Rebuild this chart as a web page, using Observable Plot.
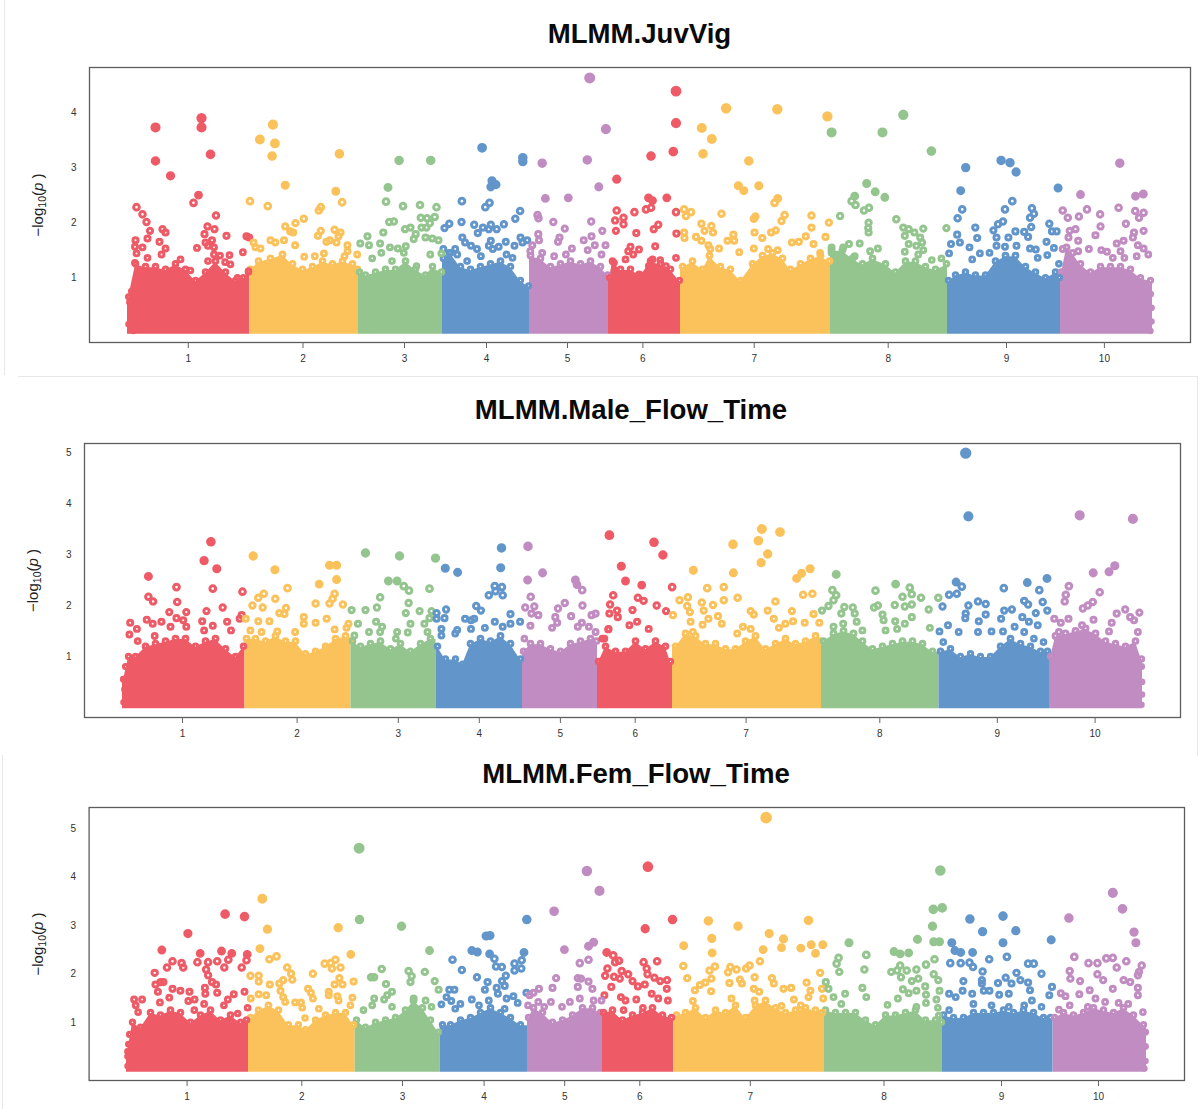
<!DOCTYPE html>
<html><head><meta charset="utf-8">
<script src="https://cdn.jsdelivr.net/npm/d3@7"></script>
<script src="https://cdn.jsdelivr.net/npm/@observablehq/plot@0.6"></script>
<style>
html,body{margin:0;background:#fff}
#root{position:relative;width:1204px;height:1109px;overflow:hidden;font-family:"Liberation Sans",Arial,sans-serif}
.ttl{position:absolute;left:0;width:1204px;text-align:center;font-weight:700;font-size:27.6px;line-height:32px;color:#0a0a0a}
.ln{position:absolute;background:#e8e8e8}
</style></head><body><div id="root"></div>
<script>
const chromosomes = ["1","2","3","4","5","6","7","8","9","10"];
const chromColors = ["#EE5A66","#FBC25B","#94C58F","#6296CB","#C18CC1"];

// panel 1: MLMM.JuvVig  [genome position, -log10(p)]
const juvTitle = "MLMM.JuvVig";
const juvTicks = [187.8,302.5,404,486,567,642.4,753.7,887.7,1006,1103.9];
const juvBounds = [127,249.3,358,442,529,608,680,830,947,1060,1152];
const juvEnvelope = [[128,.65],[135,1.25],[145,1.2],[155,1.2],[165,1.15],[175,1.25],[185,1.15],[195,.95],[205,1.1],[215,1.3],[225,1.1],[235,.95],[243,1],[248,1.1],
[250,1.15],[258,1.3],[270,1.35],[282,1.42],[292,1.25],[302,1.15],[312,1.2],[322,1.3],[332,1.25],[342,1.3],[352,1.25],[357,1.15],
[359,1.1],[365,1.05],[375,1.1],[385,1.15],[395,1.15],[405,1.3],[415,1.15],[425,1.05],[432,1.2],[441,1.1],
[443,1.35],[450,1.45],[460,1.2],[470,1.15],[480,1.2],[490,1.25],[500,1.3],[510,1.2],[520,.95],[528,.85],
[530,1.4],[540,1.35],[550,1.2],[560,1.25],[570,1.3],[580,1.25],[590,1.3],[600,1.2],[607,1.05],
[609,1],[612,1.3],[620,1.15],[630,1.15],[640,1.05],[650,1.3],[660,1.25],[670,1.15],[679,.95],
[682,1.2],[692,1.3],[702,1.15],[709,1.4],[720,1.2],[730,1.15],[740,.95],[752,1.25],[762,1.4],[772,1.45],[782,1.35],[790,1.15],[800,1.25],[810,1.35],[820,1.4],[829,1.3],
[831,1.5],[842,1.5],[852,1.35],[862,1.25],[872,1.35],[885,1.25],[895,1.1],[905,1.3],[915,1.3],[925,1.2],[935,1.15],[946,1.25],
[948,.95],[955,1.05],[965,1.1],[975,1.05],[985,1.05],[995,1.3],[1005,1.4],[1015,1.4],[1025,1.2],[1035,1.1],[1045,1],[1055,1.1],[1059,1],
[1061,1.1],[1066,1.55],[1072,1.45],[1080,1.25],[1090,1.1],[1100,1.2],[1110,1.2],[1120,1.2],[1130,1.15],[1140,1],[1150,.95]];
const juvPoints = [[129,.55],[130,.35],[128,.15],[131,.75],[133,.03],[1150,.7],[1151,.45],[1151,.2],[1150,.03],
[155,3.73],[155,3.12],[170,2.85],[201,3.9],[201,3.73],[210,3.24],[198,2.5],[193,2.36],[136,2.28],[215.5,2.13],[142,2.15],[146,2.01],[149.5,1.85],[162,1.88],[165,1.82],[147,1.71],[159,1.65],[135,1.68],[134.5,1.56],[142,1.55],[136,1.44],[165,1.53],[161,1.42],[207,1.93],[214,1.88],[204,1.79],[226,1.76],[246,1.75],[248.7,1.73],[211.5,1.68],[205,1.64],[196.5,1.54],[207.5,1.58],[213.5,1.55],[213.5,1.42],[219.5,1.4],[229,1.41],[242.4,1.46],[147,1.36],[180,1.33],[207.5,1.3],[224.6,1.28],[230,1.24],[134.4,1.27],[190,1.13],[248,1.12],[237,1],
[272.4,3.78],[259.4,3.51],[274.4,3.44],[271.6,3.21],[338.9,3.25],[284.7,2.68],[335.3,2.57],[341.6,2.37],[249.5,2.39],[267.3,2.3],[320.3,2.28],[318.3,2.22],[303.3,2.07],[295,1.99],[284.7,1.93],[289.8,1.84],[292.6,1.82],[320.3,1.85],[317.5,1.76],[334,1.87],[340,1.82],[338,1.75],[283.5,1.68],[270,1.68],[253,1.64],[255,1.55],[260,1.53],[274.8,1.64],[294.6,1.59],[326,1.65],[329.4,1.68],[336,1.64],[347,1.59],[347,1.48],[356.7,1.42],[303.7,1.38],[314.3,1.39],[323.4,1.44],[344,1.39],
[398.6,3.13],[430.2,3.13],[387.5,2.64],[385.5,2.38],[402.5,2.3],[419.5,2.32],[436,2.28],[420.3,2.09],[426.6,2.08],[434.2,2.1],[388.7,2.01],[393.4,2.02],[429.4,1.99],[421,1.91],[425.9,1.91],[404.5,1.88],[410,1.91],[382.8,1.82],[415.2,1.79],[367,1.75],[413.2,1.7],[425,1.73],[431.8,1.71],[438,1.68],[359.8,1.62],[368.5,1.59],[379.6,1.62],[389.5,1.55],[397.4,1.53],[405.3,1.57],[380.8,1.45],[403.3,1.45],[440.9,1.44],[429.8,1.42],[371.7,1.35],[391.5,1.3],[416,1.21],
[481.6,3.36],[522.3,3.18],[522.3,3.11],[491.5,2.76],[495.5,2.69],[490.3,2.65],[461.4,2.39],[489,2.36],[484.8,2.28],[519.6,2.21],[514.8,2.07],[448.8,1.98],[444,1.9],[461,2.01],[473.7,1.96],[482.4,1.91],[477.3,1.81],[490.3,1.96],[496.2,1.88],[503.4,1.97],[488.3,1.88],[461.8,1.73],[464.6,1.64],[470.5,1.58],[476.5,1.52],[490.3,1.67],[488.3,1.58],[492.3,1.52],[505.3,1.65],[498.2,1.56],[514,1.58],[520,1.73],[522,1.64],[526.7,1.68],[442.9,1.52],[454.7,1.52],[448.8,1.45],[456.7,1.42],[480.4,1.39],[506,1.42],[512,1.36],[466.6,1.3],
[541.7,3.08],[586.8,3.14],[589.2,4.63],[605.4,3.7],[598.3,2.65],[544.9,2.44],[567.8,2.45],[537,2.14],[538,2.08],[590.7,2.02],[552.8,2.01],[564.3,1.89],[601.8,1.85],[537.8,1.79],[559,1.73],[557.5,1.65],[591,1.75],[583.2,1.68],[594.3,1.59],[605,1.59],[538.5,1.68],[531.8,1.59],[571.4,1.53],[587.2,1.5],[541.7,1.45],[529.8,1.48],[553.6,1.39],[565.4,1.42],[601,1.42],
[675.5,4.39],[675.5,3.81],[672.8,3.29],[650.5,3.21],[616.2,2.79],[648,2.45],[652,2.4],[666.3,2.45],[645.5,2.24],[650.5,2.27],[633.9,2.19],[616.2,2.22],[675.5,2.19],[623,2.09],[614.6,2.04],[623,1.97],[615.4,1.85],[657.8,1.96],[653.2,1.88],[635.8,1.81],[675.9,1.8],[654.7,1.57],[630,1.56],[627.7,1.48],[638.5,1.51],[632.7,1.42],[675.5,1.36],[613.5,1.27],[625,1.33],[652,1.33],[648.2,1.21],[659.7,1.32],[665.5,1.21],[638.5,1.06],
[725.6,4.08],[776.8,4.06],[826.9,3.93],[701.3,3.72],[711.3,3.52],[702.5,3.25],[748.3,3.12],[737.9,2.67],[743.3,2.58],[758.3,2.67],[777.2,2.44],[774.1,2.36],[683.6,2.24],[690.5,2.19],[685.5,2.12],[721,2.16],[754.9,2.11],[753.3,2.07],[784.1,2.14],[781,2.03],[811,2.13],[811,1.91],[828.4,2],[700.9,1.98],[710.9,1.94],[704,1.85],[712.5,1.82],[683.6,1.82],[684,1.72],[695.5,1.74],[700.9,1.67],[732.9,1.78],[727,1.67],[733.7,1.67],[754,1.82],[761.8,1.72],[770.6,1.82],[775.3,1.86],[791.4,1.64],[798.4,1.65],[805.3,1.75],[825,1.74],[813,1.61],[707.9,1.59],[709.8,1.52],[718.6,1.53],[738.7,1.46],[753.3,1.53],[767.6,1.52],[777.2,1.5],[819.6,1.45],
[902.8,3.96],[831.1,3.64],[882,3.64],[930.9,3.3],[866.2,2.71],[874.7,2.56],[884.3,2.46],[854.2,2.48],[851.2,2.39],[855,2.32],[868.5,2.27],[863.5,2.22],[839.6,2.12],[895.8,2.06],[868.1,2],[867.7,1.9],[868.1,1.82],[902.8,1.91],[908.2,1.88],[913.9,1.82],[922.8,1.89],[945.9,1.9],[904.3,1.76],[919.7,1.73],[921.6,1.64],[908.2,1.61],[915.9,1.58],[922.8,1.5],[904.3,1.47],[917.8,1.42],[848.5,1.61],[859.2,1.62],[831.1,1.55],[842.7,1.55],[877.4,1.53],[869.6,1.48],[831.1,1.45],[854.2,1.39],[931.3,1.32],[940.9,1.35],
[965.2,3],[1000.6,3.13],[1009.5,3.09],[1015.6,2.92],[1057.6,2.63],[960.2,2.58],[1011.8,2.39],[961.7,2.24],[1031.4,2.26],[1004.5,2.24],[1033.4,2.16],[1029.5,2.09],[957.1,2.08],[1002.5,2.02],[997.5,1.97],[1048.8,1.98],[974.8,1.91],[1030.7,1.92],[992.9,1.86],[1014.9,1.84],[1023.7,1.83],[1051.5,1.84],[1056.1,1.84],[956.7,1.78],[976.7,1.72],[996,1.73],[1007.9,1.73],[1027.6,1.74],[959.4,1.64],[950.5,1.61],[1046,1.65],[996,1.58],[1004.5,1.56],[1016,1.58],[969,1.55],[1029.5,1.53],[1035.3,1.51],[1053.4,1.54],[948.6,1.44],[979.4,1.44],[989,1.45],[1046.8,1.41],[971.7,1.33],[1037.2,1.36],[1058.4,1.25],
[1119.3,3.08],[1080,2.51],[1135,2.48],[1142.8,2.52],[1086.5,2.24],[1118.1,2.27],[1062.2,2.22],[1134.7,2.21],[1143.1,2.18],[1138.5,2.09],[1078.4,2.11],[1067.3,2.09],[1099.6,2.15],[1100,1.93],[1125.4,1.98],[1143.1,1.85],[1133.5,1.82],[1132.4,1.73],[1075,1.88],[1069.2,1.85],[1095,1.77],[1123.1,1.67],[1116.2,1.62],[1077.7,1.67],[1068,1.73],[1088.4,1.52],[1100.8,1.5],[1106.5,1.47],[1120,1.48],[1137.4,1.59],[1143.1,1.53],[1147.8,1.42],[1062.2,1.52],[1077.7,1.48],[1136.2,1.39],[1112.3,1.36],[1123.9,1.36]];

// panel 2: MLMM.Male_Flow_Time
const maleTitle = "MLMM.Male_Flow_Time";
const maleTicks = [182,296.6,397.8,478.8,559.9,634.7,745.6,879.3,996.8,1094.6];
const maleBounds = [122,244.5,350.5,435.5,522,597,672,821,938.5,1049,1142];
const maleEnvelope = [[123,.55],[128,1],[135,1],[145,1.2],[155,1.25],[165,1.3],[175,1.35],[185,1.35],[195,1.2],[205,1.3],[215,1.35],[225,1.15],[235,1],[243,1.2],
[246,1.35],[255,1.35],[265,1.3],[275,1.4],[285,1.3],[295,1.3],[305,1.05],[315,1.1],[325,1.2],[335,1.35],[345,1.4],[349,1.3],
[352,1.3],[360,1.2],[370,1.25],[380,1.3],[390,1.15],[400,1.25],[410,1.1],[420,1.25],[430,1.35],
[437,1.2],[445,.95],[455,.95],[462,.85],[470,1.25],[480,1.35],[490,1.3],[500,1.4],[510,1.25],[520,.95],
[523,1.1],[530,1.25],[540,1.25],[550,1.15],[560,1.1],[570,1.25],[580,1.3],[590,1.35],[596,1.3],
[598,.9],[605,1.2],[615,1.1],[625,1.1],[635,1.3],[645,1.15],[655,1.3],[665,1.2],[670,.9],
[675,1.2],[685,1.45],[695,1.4],[705,1.25],[715,1.25],[725,1.15],[735,1.15],[745,1.3],[755,1.4],[765,1.15],[775,1.25],[785,1.35],[795,1.25],[805,1.3],[815,1.4],[820,1.3],
[823,1.3],[833,1.45],[843,1.5],[853,1.45],[862,1.3],[872,1.15],[882,1.2],[892,1.25],[902,1.3],[912,1.3],[922,1.25],[932,1.1],
[940,1.1],[950,1.15],[960,1],[970,1.05],[980,1],[990,1],[1000,1.2],[1010,1.35],[1020,1.25],[1030,1.2],[1040,1.1],[1047,1.1],
[1050,1],[1055,1.4],[1065,1.45],[1075,1.5],[1085,1.55],[1095,1.45],[1105,1.3],[1115,1.25],[1125,1.2],[1135,1.3],[1141,.95]];
const malePoints = [[123,.1],[124,.35],[123,.55],[125,.8],[1141,.8],[1141.5,.5],[1141.5,.25],[1141,.05],
[210.4,3.25],[203.6,2.88],[216.3,2.72],[212.3,2.33],[147.9,2.57],[176,2.36],[242,2.27],[147.9,2.17],[152.6,2.08],[176.7,2.07],[222.2,1.96],[206,1.89],[168.8,1.87],[185.8,1.87],[146.3,1.72],[129.7,1.66],[136.4,1.54],[152.2,1.64],[160.9,1.68],[176,1.75],[182.7,1.71],[201.7,1.69],[212.3,1.6],[226.6,1.68],[239.2,1.74],[241.2,1.81],[230.5,1.51],[128.9,1.43],[137.2,1.3],[154.2,1.4],[170,1.58],[185.8,1.58],[203.6,1.51],
[252.7,2.97],[274.4,2.7],[287,2.34],[318.7,2.42],[329,2.79],[336.1,2.79],[336.1,2.51],[263.3,2.23],[257.8,2.15],[251.9,2],[262.2,1.96],[274.8,2.13],[334.1,2.23],[332.1,2.13],[329,2.04],[342.4,2.02],[315.1,2.04],[285.5,1.95],[278.8,1.85],[283.9,1.83],[245.2,1.74],[257.8,1.69],[268.9,1.69],[303.3,1.77],[303.3,1.64],[315.1,1.66],[326.2,1.74],[348,1.64],[346,1.56],[334.1,1.53],[249.9,1.51],[261,1.48],[276.8,1.49],[294.6,1.48],
[365,3.03],[399,2.97],[435,2.93],[387.9,2.48],[396.6,2.48],[403.3,2.38],[408.5,2.29],[429,2.33],[379.6,2.16],[408.1,2.05],[351.1,1.91],[365,1.91],[376.4,1.96],[405.3,1.85],[419.1,1.89],[431,1.89],[357.5,1.64],[375.6,1.68],[410,1.64],[423.9,1.64],[429,1.75],[381.6,1.58],[379.6,1.48],[368.5,1.48],[396.6,1.48],[407.3,1.47],[427,1.48],[353.9,1.41],[395.4,1.35],
[444.8,2.73],[457.1,2.65],[501,3.13],[500.2,2.74],[494.3,2.38],[501.4,2.36],[488.3,2.2],[495,2.28],[502.2,2.2],[475.7,1.99],[480.4,1.9],[445.6,1.92],[436.1,1.85],[510,1.83],[436.1,1.74],[444,1.75],[464.6,1.74],[470.5,1.71],[473.7,1.74],[494.3,1.68],[510,1.64],[519.6,1.68],[484.4,1.56],[502.2,1.58],[440.9,1.54],[456.7,1.52],[470.5,1.54],[440.9,1.41],[454.7,1.45],
[527.5,3.16],[542.1,2.64],[527.1,2.5],[574.9,2.5],[576.5,2.41],[581.7,2.3],[530.2,2.17],[524.7,1.96],[533.8,1.98],[582,2],[564.3,2.05],[557.5,1.94],[531,1.84],[537.8,1.81],[570.6,1.79],[554.8,1.77],[591.1,1.81],[595.1,1.84],[556.7,1.66],[551.6,1.56],[529.9,1.6],[581.3,1.66],[577.3,1.58],[588.4,1.58],[595.1,1.48],[523.9,1.35],
[608.9,3.38],[653.5,3.24],[662.4,2.99],[620.8,2.77],[625,2.48],[641.2,2.4],[671.6,2.36],[612.7,2.2],[637.4,2.15],[643.1,2.09],[609.6,2.02],[656.2,2],[608.9,1.84],[616.6,1.9],[617.3,1.77],[632,1.91],[665.5,1.89],[628.9,1.61],[636.6,1.68],[648.2,1.54],[607.7,1.53],[603.9,1.35],[608.1,1.54],[601.8,1.35],
[761.4,3.5],[779.5,3.44],[757.9,3.27],[732.5,3.2],[767.2,3.01],[760.6,2.84],[692.8,2.69],[809.6,2.72],[801.1,2.63],[796.1,2.53],[732.9,2.64],[723.3,2.36],[706.7,2.34],[687.4,2.16],[679,2.1],[737.1,2.15],[802.6,2.21],[811.9,2.23],[723.3,2.1],[701.3,2.06],[712.5,2.01],[774.9,2.08],[686.7,1.99],[689.4,1.87],[672.4,1.81],[703.2,1.9],[767.2,1.9],[750.2,1.89],[753.3,1.82],[791.4,1.89],[813,1.83],[717.5,1.79],[707.9,1.74],[690.1,1.68],[773.3,1.74],[721.3,1.64],[702.1,1.62],[792.6,1.69],[784.9,1.64],[804.2,1.66],[818.8,1.66],[778.4,1.56],[742.5,1.58],[750.2,1.54],[736.7,1.45],[692.4,1.48],
[835.7,2.61],[895.1,2.42],[875,2.29],[909.3,2.35],[911.3,2.22],[902,2.17],[920.5,2.15],[831.9,2.3],[835.7,2.2],[833,2.1],[828,1.99],[821.5,1.9],[877.4,2],[873.5,1.96],[894.3,2.01],[904.3,1.98],[911.3,2.02],[928.2,1.92],[843.8,1.97],[852.3,1.96],[840.8,1.84],[854.2,1.84],[882,1.82],[911.3,1.77],[894.7,1.69],[904.3,1.64],[883.1,1.71],[833,1.58],[842.7,1.64],[856.2,1.68],[929.4,1.56],[861.9,1.51],[885.1,1.51],[896.6,1.54],[937.8,2.15],
[965.2,4.99],[967.9,3.75],[955.6,2.46],[961.3,2.37],[948.6,2.21],[956.3,2.23],[942,1.98],[1003.3,2.34],[1026.8,2.45],[1038.8,2.3],[1046.5,2.53],[967.9,2],[977.5,2.08],[985.2,2.03],[965.2,1.84],[964.8,1.75],[985.2,1.82],[978.3,1.69],[1003.7,1.9],[1011.4,1.92],[1023.7,2.09],[1027.6,2.02],[1042.2,2.07],[1035.3,1.85],[1046.8,1.9],[1000.6,1.74],[1014.1,1.58],[1021.8,1.77],[1028.4,1.68],[1037.2,1.61],[947.5,1.61],[939,1.49],[958.2,1.48],[977.5,1.48],[991,1.49],[1002.5,1.49],[1023.7,1.48],[1033.4,1.35],[942.8,1.28],[1043,1.28],
[1079.2,3.77],[1132.4,3.7],[1114.3,2.78],[1108.5,2.66],[1092.7,2.64],[1068.4,2.38],[1065.3,2.21],[1064.2,2.08],[1099.2,2.26],[1092.3,2.07],[1087.3,2],[1082.3,1.94],[1138.9,1.86],[1124.7,1.92],[1116.2,1.84],[1129.7,1.77],[1133.5,1.71],[1053.8,1.74],[1060.3,1.66],[1068,1.74],[1081.5,1.61],[1093,1.72],[1111.2,1.66],[1137.4,1.48],[1108.5,1.49],[1058.4,1.48]];

// panel 3: MLMM.Fem_Flow_Time
const femTitle = "MLMM.Fem_Flow_Time";
const femTicks = [186.6,301.3,402,483.6,564.2,639.3,749.8,883.5,1001,1098];
const femBounds = [126,248,354.7,439.7,527,602,673.2,823.4,942,1052.6,1146];
const femEnvelope = [[127,.4],[132,1],[140,.9],[150,1.2],[160,1.15],[170,1.25],[180,1.2],[190,1],[200,1.15],[210,1.25],[220,1.05],[230,1.15],[240,1],[246,1.05],
[250,1.1],[258,1.25],[268,1.35],[278,1.25],[288,.95],[298,.95],[305,.85],[315,1.05],[325,1.15],[335,1.2],[345,1.2],[353,.95],
[356,1.05],[365,.9],[375,1],[385,1.05],[395,1.1],[405,1.25],[413,1.45],[422,1.3],[430,1.05],[438,.8],
[442,.95],[450,.95],[460,1.05],[470,1.1],[480,1.2],[490,1.3],[500,1.2],[510,1.1],[520,.95],
[528,1.1],[533,1.3],[542,1.2],[552,1],[562,1.05],[572,1.15],[582,1.3],[592,1.3],[600,1.2],
[603,1.2],[612,1.25],[622,1.05],[632,1.15],[642,1.2],[652,1.3],[662,1.15],[671,1.1],
[676,1.15],[685,1.2],[695,1.3],[705,1.1],[715,1.25],[725,1.2],[735,1.35],[745,1.1],[755,1.35],[765,1.45],[775,1.3],[785,1.2],[795,1.25],[805,1.3],[815,1.25],[822,1.2],
[825,1.25],[835,1.2],[845,1.2],[855,1.2],[865,1.05],[875,.95],[885,1.15],[895,1.15],[905,1.2],[915,1.25],[925,1.05],[935,1.05],[941,1],
[943,1.15],[953,1.1],[963,1.1],[973,1.2],[983,1.2],[993,1.2],[1003,1.25],[1013,1.2],[1023,1.25],[1033,1.2],[1043,1.1],[1050,1.1],
[1054,1.1],[1063,1.2],[1073,1.15],[1083,1.2],[1093,1.3],[1103,1.25],[1113,1.2],[1123,1.3],[1133,1.15],[1143,.95]];
const femPoints = [[127,.1],[127,.3],[128,.55],[129,.75],[1145,.8],[1145,.5],[1145,.2],[1144,.05],
[187.4,2.83],[224.6,3.23],[244,3.18],[161.3,2.49],[199.7,2.42],[221,2.47],[231.3,2.42],[246.7,2.4],[246,2.28],[172,2.26],[181.1,2.22],[182.7,2.13],[196.9,2.24],[207.6,2.24],[216.7,2.26],[227.8,2.29],[223.8,2.13],[241.2,2.13],[166.5,2.13],[154.2,2.02],[205.6,2.09],[207.6,1.97],[211.5,1.83],[215.5,1.78],[155,1.78],[160.1,1.83],[162.9,1.83],[157.4,1.63],[172,1.69],[179.9,1.65],[189,1.63],[204.4,1.71],[204.8,1.59],[216.7,1.61],[233.3,1.58],[244,1.63],[133.6,1.47],[141.6,1.47],[135.2,1.35],[159.4,1.41],[168.8,1.51],[194.1,1.47],[187.8,1.44],[227.4,1.47],[223.4,1.35],[203.6,1.38],[137.6,1.21],[247.1,1.3],[237.2,1.18],[193.8,1.25],
[261.8,3.55],[266.9,2.92],[337.7,2.95],[259.4,2.52],[350.3,2.4],[268.9,2.3],[276,2.36],[334.9,2.29],[324.2,2.21],[330.2,2.22],[340,2.13],[331.4,2.11],[286.7,2.13],[290.6,2],[312.4,2],[249.9,1.96],[258.2,1.96],[258.2,1.84],[291.8,1.88],[282.7,1.87],[353.1,1.84],[338.9,1.91],[269.3,1.78],[278.8,1.8],[342,1.78],[334.1,1.78],[307.6,1.69],[310.4,1.61],[280,1.65],[328.2,1.63],[282.7,1.52],[312.4,1.49],[328.2,1.56],[336.9,1.54],[351.9,1.51],[250.3,1.49],[258.2,1.58],[265.7,1.56],[294.6,1.41],[300.5,1.41],[301.7,1.3],[284.7,1.42],[338.1,1.45],[349.9,1.35],[318.3,1.28],[304.5,1.09],
[358.6,4.59],[359,3.12],[401,2.98],[429,2.48],[381.2,2.1],[370.5,1.93],[373.7,1.93],[408.1,2.06],[424.3,2.04],[411.2,1.95],[410,1.83],[434.2,1.85],[385.5,1.79],[438.1,1.67],[391.5,1.63],[386.7,1.56],[373.7,1.49],[383.6,1.47],[425.1,1.45],[413.2,1.49],[371.7,1.35],[391.5,1.32],[363,1.25],[431,1.32],
[526.3,3.12],[485.6,2.78],[489.5,2.79],[471.3,2.48],[476.9,2.45],[489.1,2.41],[493.9,2.31],[523.5,2.44],[452,2.29],[514,2.21],[521.2,2.28],[495.5,2.15],[501.4,2.14],[461.4,2.08],[514,2.07],[520.8,2.11],[476.5,1.93],[505.3,1.96],[487.1,1.83],[501.4,1.85],[484.4,1.67],[496.2,1.71],[504.2,1.75],[448.8,1.67],[453.9,1.67],[525.9,1.61],[497.4,1.59],[446,1.52],[471.3,1.47],[506.1,1.49],[512.9,1.54],[450.8,1.44],[440.9,1.37],[459.9,1.38],[488.3,1.45],[517.2,1.4],[478.5,1.35],[454.7,1.28],[504.2,1.28],
[553.6,3.29],[586.4,4.12],[599,3.71],[563.9,2.5],[593.1,2.65],[588,2.57],[588,2.29],[579.3,2.22],[555.6,1.91],[577.3,1.91],[580.5,1.9],[588,1.84],[552,1.71],[577.3,1.73],[591.9,1.69],[538.5,1.69],[533,1.61],[529.1,1.56],[579.3,1.49],[569.4,1.42],[550.4,1.42],[537.8,1.42],[593.1,1.45],[601,1.45],[561.5,1.32],[543.7,1.32],[527.5,1.35],
[647.4,4.21],[644.7,2.93],[672,3.12],[606.2,2.44],[612.7,2.38],[618.5,2.27],[614.6,2.24],[643.1,2.24],[656.6,2.26],[606.9,2.11],[604.6,1.96],[646.2,2.11],[647,1.99],[621.2,2.06],[627.7,1.99],[613.5,1.94],[619.3,1.9],[632,1.85],[637.4,1.74],[644.3,1.78],[653.9,1.92],[659.7,1.85],[666.6,1.87],[610.8,1.73],[666.3,1.69],[620.4,1.52],[651.2,1.59],[657.8,1.49],[667.4,1.45],[635.8,1.47],[625,1.45],[603.9,1.56],[642.4,1.3],[623.1,1.25],
[765.6,5.22],[707.9,3.09],[737.5,2.98],[808,3.1],[768.7,2.83],[711.3,2.73],[783,2.72],[683.2,2.58],[810.7,2.6],[822.3,2.6],[781,2.54],[800.3,2.53],[762.6,2.5],[711.7,2.43],[815,2.42],[759.5,2.26],[682.8,2.16],[714.4,2.15],[729.8,2.14],[749.1,2.17],[745.6,2.11],[736,2.09],[709,2.07],[727.5,2.03],[819.6,2.02],[686.7,1.91],[710.9,1.9],[754.1,1.93],[771.4,1.91],[729,1.81],[739.4,1.88],[741.4,1.8],[704.8,1.82],[699.4,1.77],[694.4,1.66],[710.6,1.64],[753.3,1.69],[773.3,1.8],[758.7,1.63],[783,1.69],[790.7,1.71],[806.1,1.82],[809.9,1.65],[821.5,1.69],[692.4,1.44],[731,1.49],[754.1,1.45],[793.4,1.47],[808,1.52],[822.7,1.49],[781,1.34],[800.3,1.35],
[939.8,4.13],[932.8,3.33],[941.7,3.36],[932,2.98],[917,2.71],[848.5,2.64],[933.2,2.66],[939,2.66],[893.5,2.46],[899.7,2.41],[908.2,2.43],[865.8,2.39],[934,2.3],[838.1,2.33],[836.1,2.21],[925.5,2.19],[863.9,2.09],[915.9,2.09],[899.7,2.17],[890.8,2.04],[896.6,2.07],[906.2,2.07],[838.8,2.04],[933.2,1.99],[900.5,1.93],[917.8,1.9],[911.3,1.85],[937.8,1.87],[825.3,1.83],[828,1.69],[861.9,1.71],[902.4,1.68],[924.7,1.74],[939,1.65],[908.2,1.6],[915.9,1.65],[865.8,1.52],[844.6,1.59],[833,1.52],[925.5,1.57],[897.4,1.49],[935.9,1.47],[925.5,1.4],[840.8,1.38],[887,1.36],[937.4,1.3],[915.9,1.32],[938.2,1.14],
[969.4,3.13],[1002.5,3.19],[982.1,2.87],[1015.3,2.89],[1050.7,2.7],[1002.5,2.64],[951.3,2.64],[954.4,2.48],[960.2,2.44],[972.1,2.44],[1006.4,2.35],[988.7,2.3],[949.8,2.22],[960.2,2.22],[969,2.23],[972.5,2.14],[1027.6,2.21],[1033.3,2.21],[1041,2],[982.1,2.05],[1016,2.02],[962.9,1.85],[981.4,1.87],[981.4,1.8],[1005.2,1.92],[997.5,1.81],[1019.9,1.87],[1027.6,1.82],[1011,1.8],[1029.5,1.66],[1051.5,1.73],[1008.3,1.59],[948.6,1.59],[955.2,1.52],[962.1,1.65],[971.7,1.59],[983.3,1.65],[989,1.65],[998.7,1.57],[1048.8,1.56],[1031.4,1.45],[972.9,1.38],[948.6,1.25],[1041,1.32],[991,1.35],[1008.3,1.32],[1023.7,1.35],
[1112.3,3.67],[1122,3.34],[1068.4,3.15],[1133.5,2.86],[1135.4,2.64],[1073.8,2.35],[1105.8,2.32],[1112.3,2.33],[1125.8,2.26],[1088,2.22],[1096.9,2.22],[1141.2,2.17],[1116.2,2.13],[1138.5,2.04],[1137.4,1.97],[1069.2,2.06],[1096.9,1.99],[1069.9,1.9],[1079.6,1.85],[1123.1,1.87],[1129.7,1.83],[1102.7,1.87],[1089.2,1.66],[1112.3,1.69],[1137.4,1.71],[1060.3,1.6],[1065,1.54],[1078.8,1.58],[1137.4,1.56],[1095,1.49],[1104.6,1.42],[1118.1,1.4],[1127.7,1.38],[1069.2,1.35],[1142.4,1.21],[1058.4,1.26],[1087.3,1.32]];

const root = document.getElementById("root");
const colorRange = chromosomes.map((_, i) => chromColors[i % chromColors.length]);

function panel(o) {
  const chromOf = x => chromosomes[Math.min(9, Math.max(0, d3.bisectRight(o.bounds, x) - 1))];
  const toRow = ([x, v]) => ({x, v, chrom: chromOf(x)});
  const pts = o.points.map(toRow);
  const env = o.envelope.map(toRow);
  // each chromosome's band reaches its neighbours at the boundary
  const band = [];
  chromosomes.forEach((c, i) => {
    const rows = env.filter(d => d.chrom === c);
    band.push({x: o.bounds[i], v: rows[0].v, chrom: c}, ...rows, {x: o.bounds[i + 1], v: rows[rows.length - 1].v, chrom: c});
  });
  const svg = Plot.plot({
    width: 1204, height: o.height,
    marginLeft: o.frameLeft, marginRight: 1204 - o.frameRight, marginTop: o.marginTop, marginBottom: o.marginBottom,
    style: {fontFamily: '"Liberation Sans",Arial,sans-serif', background: "transparent", overflow: "visible"},
    x: {domain: [o.frameLeft, o.frameRight], axis: null},
    y: {domain: o.yDomain, axis: null},
    color: {type: "ordinal", domain: chromosomes, range: colorRange},
    r: {type: "linear", domain: [0, 5], range: [1.7, 4.2]},
    marks: [
      Plot.areaY(band, {x: "x", y1: -0.03, y2: d => d.v - 0.02, z: "chrom", fill: "chrom", curve: "linear"}),
      Plot.dot(env, {x: "x", y: "v", r: "v", stroke: "chrom", strokeWidth: 3, fill: "none"}),
      Plot.dot(pts.filter(d => d.v < 2.4), {x: "x", y: "v", r: "v", stroke: "chrom", strokeWidth: 3, fill: "none"}),
      Plot.dot(pts.filter(d => d.v >= 2.4), {x: "x", y: "v", r: "v", stroke: "chrom", strokeWidth: 3, fill: "chrom"}),
      Plot.frame({stroke: "#5c5c5c", strokeWidth: 1.3}),
      Plot.axisX({ticks: o.ticks, tickFormat: d => chromosomes[o.ticks.indexOf(d)], tickSize: 6, tickPadding: 6, stroke: "#666", fill: "#333", fontSize: 10, label: null}),
      Plot.axisY({ticks: o.yTicks, tickFormat: d => String(d), tickSize: 0, tickPadding: 13, fill: "#333", fontSize: 10, label: null}),
      Plot.text(["-log"], {frameAnchor: "left", dx: o.labelDx, rotate: -90, textAnchor: "middle", fontSize: 15, fill: "#222", className: "ylab"})
    ]
  });
  svg.style.position = "absolute";
  svg.style.left = "0";
  svg.style.top = o.top + "px";
  const t = d3.select(svg).select("g.ylab text");
  t.text(null);
  t.append("tspan").text("\u2212log");
  t.append("tspan").attr("dy", "0.3em").attr("font-size", "10.5").text("10");
  t.append("tspan").attr("dy", "-0.22em").text("(");
  t.append("tspan").attr("font-style", "italic").text("p");
  t.append("tspan").text(" )");
  root.appendChild(svg);
  const h = document.createElement("div");
  h.className = "ttl";
  h.textContent = o.title;
  h.style.top = (o.titleY - 16) + "px";
  h.style.left = (o.titleX - 602) + "px";
  root.appendChild(h);
}

panel({title: juvTitle, titleX: 639.5, titleY: 34, ticks: juvTicks, bounds: juvBounds, envelope: juvEnvelope, points: juvPoints,
  top: 50, height: 325, marginTop: 17, marginBottom: 33, frameLeft: 89, frameRight: 1190, yDomain: [-0.18, 4.82], yTicks: [1,2,3,4], labelDx: -51});
panel({title: maleTitle, titleX: 631, titleY: 410, ticks: maleTicks, bounds: maleBounds, envelope: maleEnvelope, points: malePoints,
  top: 428, height: 325, marginTop: 15, marginBottom: 36, frameLeft: 84, frameRight: 1180, yDomain: [-0.2, 5.18], yTicks: [1,2,3,4,5], labelDx: -51});
panel({title: femTitle, titleX: 636, titleY: 774, ticks: femTicks, bounds: femBounds, envelope: femEnvelope, points: femPoints,
  top: 790, height: 319, marginTop: 17, marginBottom: 29, frameLeft: 88.6, frameRight: 1184, yDomain: [-0.2, 5.43], yTicks: [1,2,3,4,5], labelDx: -51});

[[18,376,1179,1],[1197,376,1,380],[4,0,1,375],[2,755,1,354]].forEach(([l,t,w,h]) => {
  const d = document.createElement("div");
  d.className = "ln";
  Object.assign(d.style, {left: l+"px", top: t+"px", width: w+"px", height: h+"px"});
  root.appendChild(d);
});
</script></body></html>
